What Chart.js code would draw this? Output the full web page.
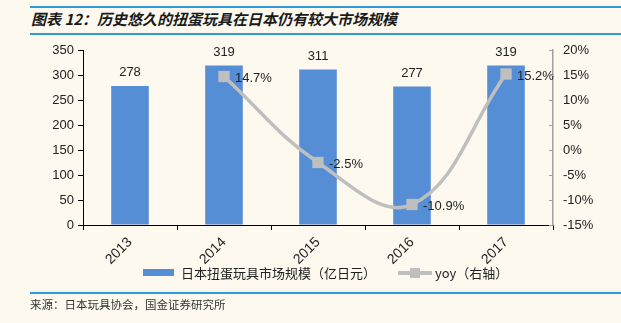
<!DOCTYPE html>
<html>
<head>
<meta charset="utf-8">
<script src="https://cdn.jsdelivr.net/npm/chart.js@4.4.1/dist/chart.umd.min.js"></script>
<style>
  html, body { margin: 0; padding: 0; background: #FDF9EE; }
  #wrap { position: relative; width: 621px; height: 323px; overflow: hidden; background: #FDF9EE; }
  #chart { position: absolute; left: 0; top: 0; }
  .rule { position: absolute; left: 30px; right: 0; height: 2px; background: #2E9AD8; }
  #title { position: absolute; left: 31px; top: 9px; font: italic bold 15px "Noto Sans CJK SC", sans-serif; color: #1a1a1a; white-space: nowrap; line-height: 20px; }
  #source { position: absolute; left: 30px; top: 296px; font: 11.5px "Noto Sans CJK SC", sans-serif; color: #333; white-space: nowrap; line-height: 16px; }
  .lg { position: absolute; font: 13px "Noto Sans CJK SC", "Liberation Sans", sans-serif; color: #222; white-space: nowrap; line-height: 16px; }
  .lg-text { position: absolute; top: 0; }
</style>
</head>
<body>
<div id="wrap">
  <div class="rule" style="top:6px"></div>
  <div id="title">图表 12：历史悠久的扭蛋玩具在日本仍有较大市场规模</div>
  <div class="rule" style="top:33px"></div>
  <canvas id="chart" width="621" height="323"></canvas>
  <div class="lg" style="left:143px; top:265px; width:240px; height:16px;">
    <span style="position:absolute; left:0; top:4px; width:31px; height:7px; background:#558ED5;"></span>
    <span class="lg-text" style="left:38px;">日本扭蛋玩具市场规模（亿日元）</span>
  </div>
  <div class="lg" style="left:398px; top:265px; width:120px; height:16px;">
    <span style="position:absolute; left:0; top:6px; width:34px; height:4px; background:#BFBFBF;"></span>
    <span style="position:absolute; left:12px; top:3px; width:10px; height:10px; background:#BFBFBF;"></span>
    <span class="lg-text" style="left:37px;">yoy（右轴）</span>
  </div>
  <div class="rule" style="top:292px"></div>
  <div id="source">来源：日本玩具协会，国金证券研究所</div>
</div>
<script>
// Japanese capsule-toy market, 2013-2017
const years = ['2013', '2014', '2015', '2016', '2017'];
const marketSize = [278, 319, 311, 277, 319];      // 亿日元
const yoyPct = [null, 14.7, -2.5, -10.9, 15.2];    // %

const latinFont = '"Liberation Sans", Arial, sans-serif';
const textColor = '#222';

// value labels above the bars and beside the yoy markers
const valueLabels = {
  id: 'valueLabels',
  afterDatasetsDraw(chart) {
    const ctx = chart.ctx;
    ctx.save();
    ctx.font = '13px ' + latinFont;
    ctx.fillStyle = textColor;
    chart.getDatasetMeta(1).data.forEach((el, i) => {
      ctx.textAlign = 'center';
      ctx.textBaseline = 'bottom';
      ctx.fillText(String(marketSize[i]), el.x, el.y - 7);
    });
    chart.getDatasetMeta(0).data.forEach((el, i) => {
      if (yoyPct[i] === null) return;
      ctx.textAlign = 'left';
      ctx.textBaseline = 'middle';
      ctx.fillText(yoyPct[i].toFixed(1) + '%', el.x + 11, el.y + 2);
    });
    ctx.restore();
  }
};

// short inward tick marks on the right-hand percentage axis
const rightTicks = {
  id: 'rightTicks',
  afterDraw(chart) {
    const s = chart.scales.y1;
    const ctx = chart.ctx;
    ctx.save();
    ctx.strokeStyle = '#A0A0A0';
    ctx.lineWidth = 1;
    s.ticks.forEach(t => {
      const y = Math.round(s.getPixelForValue(t.value)) + 0.5;
      ctx.beginPath();
      ctx.moveTo(s.left - 4, y);
      ctx.lineTo(s.left, y);
      ctx.stroke();
    });
    ctx.restore();
  }
};

new Chart(document.getElementById('chart'), {
  data: {
    labels: years,
    datasets: [
      {
        type: 'line',
        label: 'yoy（右轴）',
        data: yoyPct,
        yAxisID: 'y1',
        order: 0,
        borderColor: '#BFBFBF',
        backgroundColor: '#BFBFBF',
        borderWidth: 3.5,
        tension: 0.4,
        pointStyle: 'rect',
        pointRadius: 8,
        pointBorderWidth: 0,
        pointBackgroundColor: '#BFBFBF',
        fill: false
      },
      {
        type: 'bar',
        label: '日本扭蛋玩具市场规模（亿日元）',
        data: marketSize,
        yAxisID: 'y',
        order: 1,
        backgroundColor: '#558ED5',
        categoryPercentage: 0.8,
        barPercentage: 0.5
      }
    ]
  },
  options: {
    responsive: false,
    animation: false,
    devicePixelRatio: 1,
    layout: { padding: { top: 50, left: 0, right: 0, bottom: 0 } },
    plugins: { legend: { display: false }, tooltip: { enabled: false } },
    scales: {
      x: {
        offset: true,
        grid: { offset: true, drawOnChartArea: false, drawTicks: true, tickLength: 5, color: '#000' },
        border: { color: '#000', width: 1 },
        ticks: { minRotation: 45, maxRotation: 45, padding: 4, color: textColor, font: { family: latinFont, size: 14 } },
        afterFit(s) { s.height = 98; }
      },
      y: {
        position: 'left',
        min: 0,
        max: 350,
        ticks: { stepSize: 50, padding: 4, color: textColor, font: { family: latinFont, size: 13 } },
        grid: { drawOnChartArea: false, drawTicks: true, tickLength: 5, color: '#000' },
        border: { color: '#000', width: 1 },
        afterFit(s) { s.width = 83; }
      },
      y1: {
        position: 'right',
        min: -15,
        max: 20,
        ticks: { stepSize: 5, padding: 10, color: textColor, font: { family: latinFont, size: 13 }, callback: v => v + '%' },
        grid: { drawOnChartArea: false, drawTicks: false },
        border: { color: '#A0A0A0', width: 1.5 },
        afterFit(s) { s.width = 68; }
      }
    }
  },
  plugins: [valueLabels, rightTicks]
});
</script>
</body>
</html>
